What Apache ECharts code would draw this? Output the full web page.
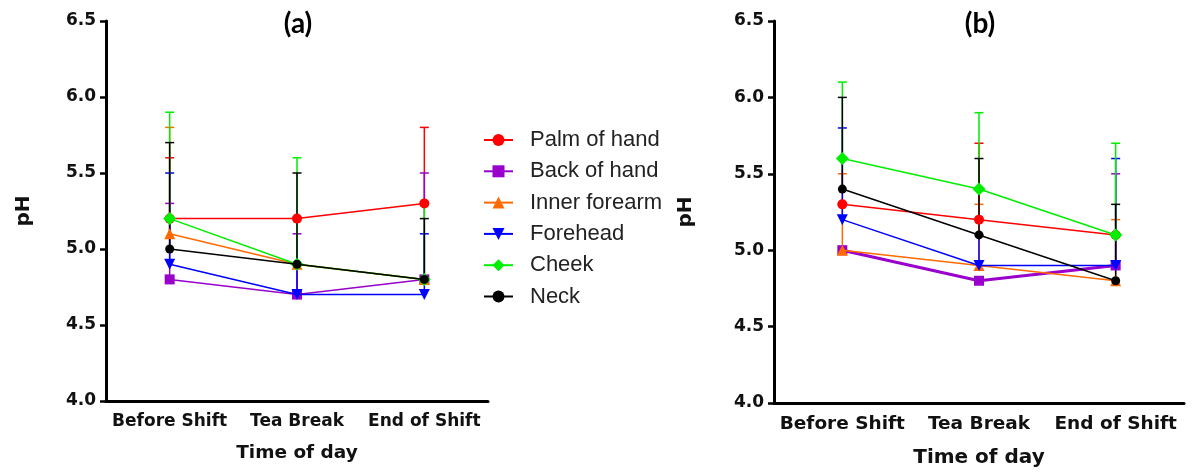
<!DOCTYPE html>
<html><head><meta charset="utf-8">
<script src="https://cdn.jsdelivr.net/npm/echarts@6/dist/echarts.min.js"></script>
<style>html,body{margin:0;padding:0;background:#fff}#c{width:1200px;height:473px}</style>
</head><body><div id="c"></div>
<script>
// ---- data ----
const categories = ['Before Shift', 'Tea Break', 'End of Shift'];
const seriesNames = ['Palm of hand', 'Back of hand', 'Inner forearm', 'Forehead', 'Cheek', 'Neck'];
const yTicks = [4.0, 4.5, 5.0, 5.5, 6.0, 6.5];

// Panel (a) means and SD (upper error)
const aPalm = [5.2, 5.2, 5.3],     aPalmSD = [0.4, null, 0.5];
const aBack = [4.8, 4.7, 4.8],     aBackSD = [0.5, 0.4, 0.7];
const aInner = [5.1, 4.9, 4.8],    aInnerSD = [0.7, null, null];
const aForehead = [4.9, 4.7, 4.7], aForeheadSD = [0.6, 0.2, 0.4];
const aCheek = [5.2, 4.9, 4.8],    aCheekSD = [0.7, 0.7, 0.5];
const aNeck = [5.0, 4.9, 4.8],     aNeckSD = [0.7, 0.6, 0.4];

// Panel (b)
const bPalm = [5.3, 5.2, 5.1],     bPalmSD = [null, 0.5, null];
const bBack = [5.0, 4.8, 4.9],     bBackSD = [null, null, 0.6];
const bInner = [5.0, 4.9, 4.8],    bInnerSD = [0.5, 0.4, 0.4];
const bForehead = [5.2, 4.9, 4.9], bForeheadSD = [0.6, 0.2, 0.7];
const bCheek = [5.6, 5.4, 5.1],    bCheekSD = [0.5, 0.5, 0.6];
const bNeck = [5.4, 5.1, 4.8],     bNeckSD = [0.6, 0.5, 0.5];

// ---- styles ----
const colors = ['#ff0000', '#9900cc', '#ff6a00', '#0000ff', '#00ee00', '#000000'];
const symbols = ['circle', 'rect', 'triangle', 'triangle', 'diamond', 'circle'];
const symbolRot = [0, 0, 0, 180, 0, 0];
const symbolSizes = [10, 10, 11, 11, 13, 9];
const AX = 'DejaVu Sans';

const panelA = [[aPalm, aPalmSD], [aBack, aBackSD], [aInner, aInnerSD], [aForehead, aForeheadSD], [aCheek, aCheekSD], [aNeck, aNeckSD]];
const panelB = [[bPalm, bPalmSD], [bBack, bBackSD], [bInner, bInnerSD], [bForehead, bForeheadSD], [bCheek, bCheekSD], [bNeck, bNeckSD]];

function errRender(color) {
  return function (params, api) {
    const x = api.value(0), m = api.value(1), u = api.value(2);
    const p0 = api.coord([x, m]);
    const p1 = api.coord([x, u]);
    const hw = 4.5;
    const st = { stroke: color, lineWidth: 1.5 };
    return {
      type: 'group',
      children: [
        { type: 'line', shape: { x1: p0[0], y1: p0[1], x2: p1[0], y2: p1[1] }, style: st },
        { type: 'line', shape: { x1: p1[0] - hw, y1: p1[1], x2: p1[0] + hw, y2: p1[1] }, style: st }
      ]
    };
  };
}

const series = [];
[panelA, panelB].forEach((panel, pi) => {
  panel.forEach((d, i) => {
    const [mean, sd] = d;
    const errData = [];
    mean.forEach((m, k) => { if (sd[k] != null) errData.push([k, m, +(m + sd[k]).toFixed(2)]); });
    series.push({
      type: 'custom', name: seriesNames[i] + ' SD', xAxisIndex: pi, yAxisIndex: pi,
      renderItem: errRender(colors[i]), data: errData, z: 1 + i * 0.01, silent: true,
      encode: { x: 0, y: [1, 2] }
    });
  });
  panel.forEach((d, i) => {
    const [mean] = d;
    series.push({
      type: 'line', name: seriesNames[i], xAxisIndex: pi, yAxisIndex: pi,
      data: mean, symbol: symbols[i], symbolRotate: symbolRot[i], symbolSize: symbolSizes[i],
      showAllSymbol: true,
      lineStyle: { color: colors[i], width: (pi === 1 && i === 1) ? 3 : 1.5 },
      itemStyle: { color: colors[i] },
      z: 3 + i * 0.01, animation: false
    });
  });
});

function xAxisCfg(gi, labelSize, nameSize, nameGap) {
  return {
    type: 'category', gridIndex: gi, data: categories, boundaryGap: true,
    axisLine: { lineStyle: { color: '#000', width: 3 } },
    axisTick: { alignWithLabel: true, length: 7, lineStyle: { color: '#000', width: 3 } },
    axisLabel: { color: '#111', fontFamily: AX, fontWeight: 'bold', fontSize: labelSize, margin: 12,
      interval: 0, hideOverlap: false },
    name: 'Time of day', nameLocation: 'middle', nameGap: nameGap,
    nameTextStyle: { color: '#111', fontFamily: AX, fontWeight: 'bold', fontSize: nameSize },
    splitLine: { show: false }
  };
}
function yAxisCfg(gi, nameGap) {
  return {
    type: 'value', gridIndex: gi, min: 4.0, max: 6.5, interval: 0.5,
    axisLine: { show: true, lineStyle: { color: '#000', width: 3 } },
    axisTick: { show: true, length: 6, lineStyle: { color: '#000', width: 2.5 } },
    axisLabel: { color: '#111', fontFamily: AX, fontWeight: 'bold', fontSize: 17, margin: 10,
      formatter: v => yTicks.includes(+v.toFixed(1)) ? v.toFixed(1) : '' },
    splitLine: { show: false },
    name: 'pH', nameLocation: 'middle', nameGap: nameGap, nameRotate: 90,
    nameTextStyle: { color: '#111', fontFamily: AX, fontWeight: 'bold', fontSize: 20 }
  };
}

const chart = echarts.init(document.getElementById('c'), null, { renderer: 'canvas' });
chart.setOption({
  animation: false,
  backgroundColor: '#fff',
  grid: [
    { left: 106, top: 21, width: 382, height: 380 },
    { left: 774, top: 21, width: 410, height: 383 }
  ],
  xAxis: [xAxisCfg(0, 17, 18.5, 43), xAxisCfg(1, 18.5, 20, 45)],
  yAxis: [yAxisCfg(0, 72), yAxisCfg(1, 78)],
  legend: {
    data: seriesNames, orient: 'vertical', left: 478, top: 124,
    itemWidth: 29, itemHeight: 15, itemGap: 9.3,
    textStyle: { fontFamily: 'Liberation Sans', fontSize: 22, color: '#222', lineHeight: 22, padding: [0, 0, 0, 12] },
    selectedMode: false
  },
  graphic: [
    { type: 'text', x: 298, y: 24, style: { text: '(a)', fontFamily: 'Lato', fontWeight: 'bold', fontSize: 28, fill: '#000', textAlign: 'center', textVerticalAlign: 'middle' } },
    { type: 'text', x: 980, y: 24, style: { text: '(b)', fontFamily: 'Lato', fontWeight: 'bold', fontSize: 28, fill: '#000', textAlign: 'center', textVerticalAlign: 'middle' } }
  ],
  series: series
});
</script>
</body></html>
